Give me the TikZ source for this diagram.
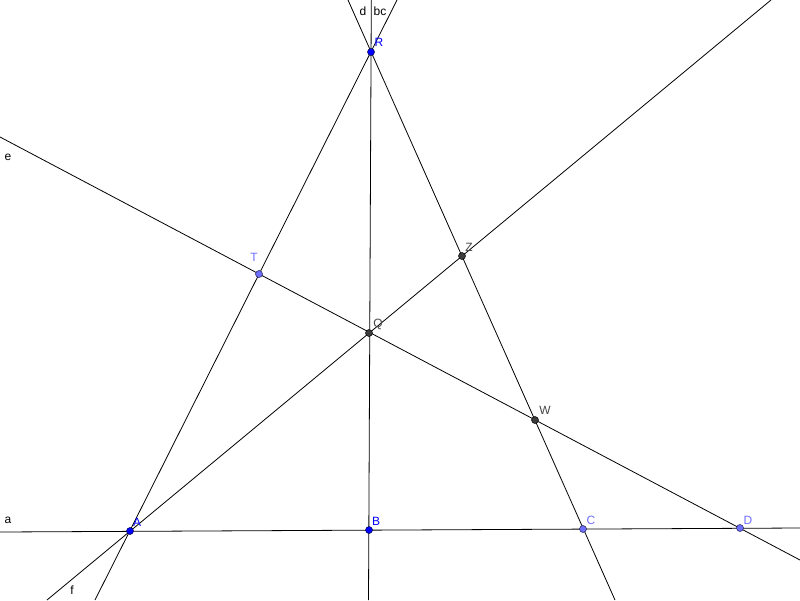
\documentclass[tikz,border=0pt]{standalone}
\usepackage{fontspec}
\setmainfont{Liberation Sans}
\begin{document}
\begin{tikzpicture}[x=1pt,y=-1pt,
  ln/.style={black,line width=0.8pt},
  ptblue/.style={circle,fill={rgb,255:red,0;green,0;blue,255},draw={rgb,255:red,0;green,0;blue,80},line width=0.5pt,inner sep=0pt,minimum size=7pt},
  ptlight/.style={circle,fill={rgb,255:red,110;green,110;blue,255},draw={rgb,255:red,30;green,30;blue,80},line width=0.5pt,inner sep=0pt,minimum size=7pt},
  ptdark/.style={circle,fill={rgb,255:red,60;green,60;blue,60},draw=black,line width=0.5pt,inner sep=0pt,minimum size=7pt},
  lab/.style={font=\fontsize{12}{14}\selectfont,inner sep=0pt},
  lblue/.style={lab,text={rgb,255:red,0;green,0;blue,255}},
  llight/.style={lab,text={rgb,255:red,110;green,110;blue,255}},
  ldark/.style={lab,text={rgb,255:red,70;green,70;blue,70}},
  lblack/.style={lab,text=black}]
\useasboundingbox (0,0) rectangle (800,600);
% coordinates
\coordinate (pA) at (130,531);
\coordinate (pB) at (369,530);
\coordinate (pC) at (583,529);
\coordinate (pD) at (740,528);
\coordinate (pR) at (371,52);
\coordinate (pQ) at (369,333);
\coordinate (pT) at (259,274);
\coordinate (pZ) at (462,256);
\coordinate (pW) at (535,420);
% line ends
\coordinate (a1) at (0,532);
\coordinate (a2) at (800,528);
\coordinate (ra1) at (397,0);
\coordinate (ra2) at (95,600);
\coordinate (rc1) at (348,0);
\coordinate (rc2) at (615,600);
\coordinate (rb1) at (371.3,0);
\coordinate (rb2) at (368.5,600);
\coordinate (e1) at (0,137);
\coordinate (e2) at (800,560);
\coordinate (f1) at (771,0);
\coordinate (f2) at (47,600);
% lines
\draw[ln] (a1) -- (a2);
\draw[ln] (ra1) -- (ra2);
\draw[ln] (rc1) -- (rc2);
\draw[ln] (rb1) -- (rb2);
\draw[ln] (e1) -- (e2);
\draw[ln] (f1) -- (f2);
% points
\node[ptblue] (A) at (pA) {};
\node[ptblue] (B) at (pB) {};
\node[ptblue] (R) at (pR) {};
\node[ptlight] (T) at (pT) {};
\node[ptlight] (C) at (pC) {};
\node[ptlight] (D) at (pD) {};
\node[ptdark] (Q) at (pQ) {};
\node[ptdark] (Z) at (pZ) {};
\node[ptdark] (W) at (pW) {};
% point labels
\node[lblue] (lA) at (137,522) {A};
\node[lblue] (lB) at (376,521) {B};
\node[lblue] (lR) at (379,42) {R};
\node[llight] (lT) at (254,257) {T};
\node[llight] (lC) at (591,520) {C};
\node[llight] (lD) at (748,520) {D};
\node[ldark] (lQ) at (378,324) {Q};
\node[ldark] (lZ) at (469,247) {Z};
\node[ldark] (lW) at (545,410) {W};
% line labels
\node[lblack] (la) at (8,520) {a};
\node[lblack] (le) at (8,157) {e};
\node[lblack] (lf) at (72,590) {f};
\node[lblack] (ld) at (363,11) {d};
\node[lblack] (lbc) at (380,11) {bc};
\end{tikzpicture}
\end{document}
